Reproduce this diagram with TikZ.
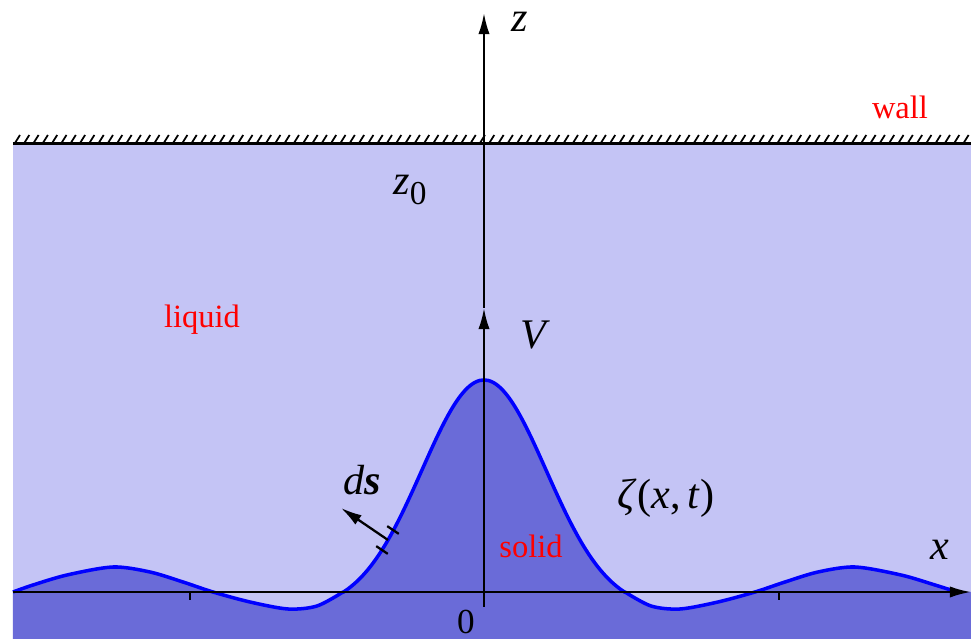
\documentclass[tikz,border=0pt]{standalone}
\usepackage{fontspec}
\setmainfont{Liberation Serif}
\usepackage{tikz}
\usetikzlibrary{positioning,arrows.meta}
\usepackage{xcolor}
\definecolor{liquidblue}{RGB}{196,196,245}
\definecolor{solidblue}{RGB}{106,107,216}

\begin{document}
\begin{tikzpicture}[x=0.2mm,y=0.2mm,>={Latex[length=12pt,width=6.4pt]},
  axis/.style={line width=1.3pt,black},
  lbl/.style={font=\fontsize{18.5}{22}\selectfont,text=red},
  sym/.style={font=\fontsize{24}{28}\selectfont\itshape}]
\useasboundingbox (-484,-47) rectangle (487,592);
% regions
\fill[liquidblue] (-471,-47) rectangle (487,449);
\fill[solidblue] plot[smooth] coordinates {(-471,0) (-451,7) (-417,17) (-371,25) (-334,20) (-301,10) (-271,0) (-234,-10) (-196,-17) (-167,-14) (-141,0)}
  -- plot[domain=-141:141,samples=71,smooth] (\x,{230*exp(-(\x/88)^2)-18})
  -- plot[smooth] coordinates {(141,0) (167,-14) (196,-17) (234,-10) (271,0) (301,10) (334,20) (371,25) (417,17) (451,7) (473,0)}
  -- (487,0) -- (487,-47) -- (-471,-47) -- cycle;
% interface zeta(x,t)
\draw[blue,line width=2pt,line join=round] plot[smooth] coordinates {(-471,0) (-451,7) (-417,17) (-371,25) (-334,20) (-301,10) (-271,0) (-234,-10) (-196,-17) (-167,-14) (-141,0)}
  -- plot[domain=-141:141,samples=71,smooth] (\x,{230*exp(-(\x/88)^2)-18})
  -- plot[smooth] coordinates {(141,0) (167,-14) (196,-17) (234,-10) (271,0) (301,10) (334,20) (371,25) (417,17) (451,7) (473,0)};
% wall
\draw[line width=1.3pt] (-471,448.5) -- (487,448.5);
\foreach \h in {0,...,102}
  \draw[line width=1pt] ({-469+9.3*\h},449) -- ++(5,8);
% axes
\coordinate (xbeg) at (-471,0);
\coordinate (xend) at (487,0);
\coordinate (zbeg) at (0,-15);
\coordinate (vtip) at (0,284);
\coordinate (zend) at (0,579);
\draw[axis,->] (xbeg) -- (xend);
\draw[axis,->] (zbeg) -- (vtip);
\draw[axis,->] (vtip) -- (zend);
\foreach \t in {-294,295}
  \draw[axis] (\t,0) -- (\t,-8);
% surface element
\coordinate (dsfoot) at (-96,52);
\coordinate (dstip) at (-143,84);
\draw[axis,->] (dsfoot) -- (dstip);
\draw[axis] (-96.8,65.9) -- (-85.2,58.1);
\draw[axis] (-107.8,45.9) -- (-96.2,38.1);
% labels
\node[sym] (zlab) at (36,570) {z};
\node[lbl] (wall) at (416,485) {wall};
\node[sym] (zzero) at (-74,402) {z\raisebox{-6pt}{\fontsize{19}{20}\selectfont\upshape 0}};
\node[lbl] (liquid) at (-282,272) {liquid};
\node[sym] (vlab) at (49,257) {V};
\node[sym] (dslab) at (-122,112) {d\textbf{s}};
\node[sym] (zeta) at (182,94) {ζ\textup{(}x\textup{,\,}t\textup{)}};
\node[lbl] (solid) at (47,46) {solid};
\node[sym] (xlab) at (456,42) {x};
\node[font=\fontsize{20}{22}\selectfont,inner sep=1pt] (orig) at (-18,-30) {0};
\end{tikzpicture}
\end{document}
